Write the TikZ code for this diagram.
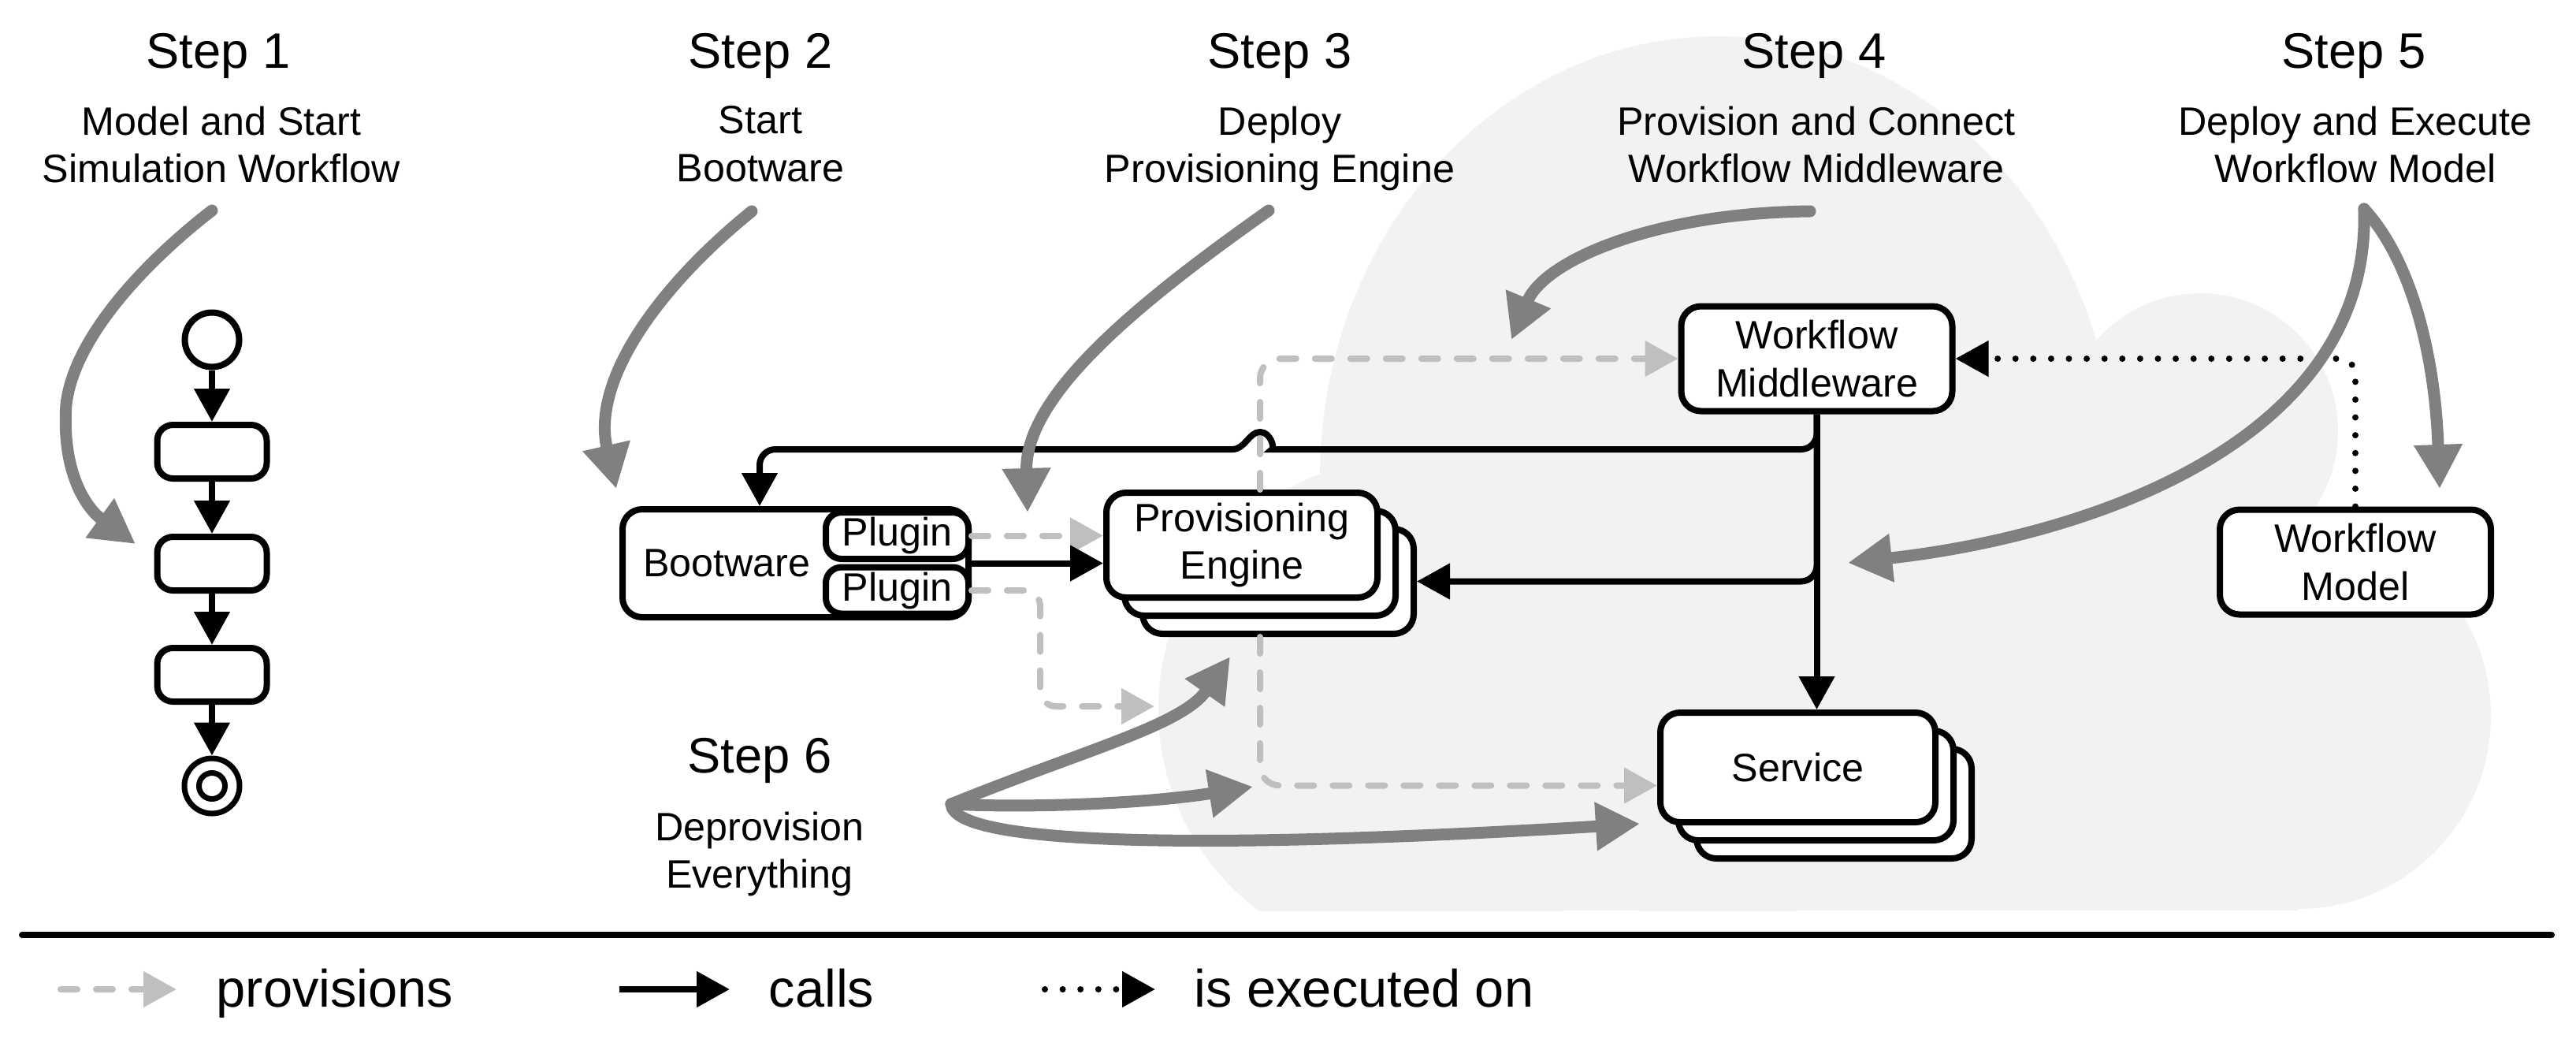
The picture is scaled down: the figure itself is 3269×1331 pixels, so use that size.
\documentclass[tikz,border=0pt]{standalone}
\usepackage{fontspec}
\setmainfont{Liberation Sans}
\usepackage{tikz}
\usetikzlibrary{arrows.meta,calc}
\tikzset{>={Triangle[length=4.2mm,width=4.4mm]}}
\definecolor{cloudgray}{HTML}{F2F2F2}
\definecolor{provgray}{HTML}{BFBFBF}
\definecolor{stepgray}{HTML}{808080}

\begin{document}
\begin{tikzpicture}[x=0.1mm, y=-0.1mm,
    box/.style={draw, line width=0.8mm, rounded corners=2.5mm, fill=white, align=center, inner sep=0pt,
        minimum width=34.4mm, minimum height=13.3mm, font=\fontsize{14.3}{17.2}\selectfont},
    actbox/.style={draw, line width=0.8mm, rounded corners=2mm, fill=white, inner sep=0pt,
        minimum width=13.9mm, minimum height=6.8mm},
    plugin/.style={box, rounded corners=2mm, minimum width=18.1mm, minimum height=5.9mm},
    steptitle/.style={anchor=base, inner sep=0pt, font=\fontsize{18}{21.6}\selectfont},
    steptext/.style={anchor=north, inner sep=0pt, align=center, font=\fontsize{14.3}{17.2}\selectfont},
    legendtext/.style={anchor=base west, inner sep=0pt, font=\fontsize{19}{22.8}\selectfont},
    calls/.style={draw, line width=0.8mm, ->},
    provs/.style={draw=provgray, line width=0.8mm, dash pattern=on 2.1mm off 2.4mm, line cap=round, ->},
    isexec/.style={draw, line width=0.8mm, dash pattern=on 0pt off 2.26mm, line cap=round, ->},
    stepline/.style={draw=stepgray, line width=1.5mm, line cap=round, -{Triangle[length=5.6mm,width=5.8mm]}}
]
    \useasboundingbox (0,0) rectangle (3269,1331);

    % Draw cloud in the background
    \begin{scope}
        \clip (0,0) rectangle (3269,1155);
        \fill[cloudgray] (2180,606) ellipse [x radius=50.5mm, y radius=56mm];
        \fill[cloudgray] (1790,900) circle [radius=32mm];
        \fill[cloudgray] (2792,547) circle [radius=17.5mm];
        \fill[cloudgray] (2916,908) circle [radius=24.5mm];
        \fill[cloudgray] (1700,640) rectangle (2916,1155);
    \end{scope}

    % Step labels
    \node[steptitle] (s1) at (277,86) {Step 1};
    \node[steptext] (s1t) at (281,134) {Model and Start\\Simulation Workflow};
    \node[steptitle] (s2) at (965,86) {Step 2};
    \node[steptext] (s2t) at (965,134) {Start\\Bootware};
    \node[steptitle] (s3) at (1624,86) {Step 3};
    \node[steptext] (s3t) at (1624,134) {Deploy\\Provisioning Engine};
    \node[steptitle] (s4) at (2302,86) {Step 4};
    \node[steptext] (s4t) at (2305,134) {Provision and Connect\\Workflow Middleware};
    \node[steptitle] (s5) at (2987,86) {Step 5};
    \node[steptext] (s5t) at (2989,134) {Deploy and Execute\\Workflow Model};
    \node[steptitle] (s6) at (964,980) {Step 6};
    \node[steptext] (s6t) at (964,1029) {Deprovision\\Everything};

    % Simulation workflow (step 1)
    \node[circle, draw, line width=0.8mm, minimum size=6.9mm, inner sep=0pt] (start) at (269,431) {};
    \foreach \i/\y in {1/573, 2/715, 3/856}
        \node[actbox] (act\i) at (269,\y) {};
    \node[circle, draw, line width=0.7mm, minimum size=7mm, inner sep=0pt] (stop) at (269,997) {};
    \node[circle, draw, line width=0.7mm, minimum size=3.3mm, inner sep=0pt] (stopin) at (stop) {};
    \draw[calls] (start) -- (act1);
    \draw[calls] (act1) -- (act2);
    \draw[calls] (act2) -- (act3);
    \draw[calls] (act3) -- (stop);

    % Bootware with its plugins
    \node[box, minimum width=43.9mm, minimum height=13.7mm, text width=38.7mm, align=left, inner xsep=2.6mm] (boot) at (1009.5,714.5) {Bootware};
    \node[plugin] (plug1) at (1138.5,679.5) {Plugin};
    \node[plugin] (plug2) at (1138.5,749) {Plugin};

    % Provisioning engine, middleware, model and services
    \foreach \i/\d in {3/46, 2/23}
        \node[box] (pe\i) at (1576+\d,691.5+\d) {};
    \node[box] (pe) at (1576,691.5) {Provisioning\\Engine};
    \node[box] (wm) at (2305.5,455) {Workflow\\Middleware};
    \node[box] (wmodel) at (2989,713) {Workflow\\Model};
    \foreach \i/\d in {3/46, 2/23}
        \node[box, minimum width=34.9mm, minimum height=13.9mm] (svc\i) at (2281.5+\d,973.5+\d) {};
    \node[box, minimum width=34.9mm, minimum height=13.9mm] (svc) at (2281.5,973.5) {Service};
    \coordinate (cloudin) at (1465,896);

    % provisions
    \draw[provs] (plug1.east) -- (pe.west |- plug1.east);
    \draw[provs, rounded corners=2mm] (plug2.east) -| ([xshift=-14.5mm]cloudin) -- (cloudin);
    \draw[provs, rounded corners=2.5mm] (pe.north -| pe2) |- (wm);
    \draw[provs, rounded corners=2.5mm] (pe3.south -| pe2) |- (svc.west |- svc2);

    % calls
    \draw[calls] (boot.east) -- (pe.west |- boot.east);
    \draw[calls] (wm.south) -- (wm.south |- svc.north);
    \draw[calls, rounded corners=2mm] (wm.south) |- (pe3.east);
    % jump over the provisions line
    \draw[calls, rounded corners=2mm] (wm.south) |- (1634,570) [sharp corners]
        .. controls (1618,570) and (1613,548) .. (1599,548)
        .. controls (1585,548) and (1580,570) .. (1564,570) [rounded corners=2mm]
        -| ([xshift=-4.55mm]boot.north);

    % is executed on
    \draw[isexec, rounded corners=2mm] (wmodel.north) |- (wm.east);

    % Gray step arrows
    \coordinate (s1from) at (269,267);  \coordinate (s1to) at (172,690);
    \coordinate (s2from) at (954,268);  \coordinate (s2to) at (782,620);
    \coordinate (s3from) at (1610,267); \coordinate (s3to) at (1304,650);
    \coordinate (s4from) at (2297,268); \coordinate (s4to) at (1918,431);
    \coordinate (s5from) at (3000,265); \coordinate (s5to) at (3096,620); \coordinate (s5back) at (2345,714);
    \coordinate (s6from) at (1207,1020);
    \coordinate (s6pe) at (1561,833); \coordinate (s6mid) at (1590,998); \coordinate (s6svc) at (2081,1045);
    \draw[stepline] (s1from) .. controls (200,320) and (95,420) .. (84,513) .. controls (78,600) and (110,645) .. (s1to);
    \draw[stepline] (s2from) .. controls (840,360) and (750,480) .. (s2to);
    \draw[stepline] (s3from) .. controls (1450,380) and (1300,500) .. (s3to);
    \draw[stepline] (s4from) .. controls (2100,270) and (1960,330) .. (s4to);
    \draw[stepline] (s5from) .. controls (3060,330) and (3090,450) .. (s5to);
    \draw[stepline] (s5from) .. controls (3010,560) and (2650,680) .. (s5back);
    \draw[stepline] (s6from) .. controls (1380,950) and (1500,920) .. (s6pe);
    \draw[stepline] (s6from) .. controls (1300,1025) and (1450,1020) .. (s6mid);
    \draw[stepline] (s6from) .. controls (1210,1070) and (1500,1080) .. (s6svc);

    % Legend
    \draw[line width=0.8mm, line cap=round] (28,1186) -- (3238,1186);
    \node[legendtext] (lprov) at (274,1277) {provisions};
    \node[legendtext] (lcalls) at (975,1277) {calls};
    \node[legendtext] (lexec) at (1515,1277) {is executed on};
    \draw[provs] ([shift={(-197,-22)}]lprov.base west) -- ([shift={(-50,-22)}]lprov.base west);
    \draw[calls] ([shift={(-189,-22)}]lcalls.base west) -- ([shift={(-49,-22)}]lcalls.base west);
    \draw[isexec] ([shift={(-189,-22)}]lexec.base west) -- ([shift={(-49,-22)}]lexec.base west);
\end{tikzpicture}
\end{document}
